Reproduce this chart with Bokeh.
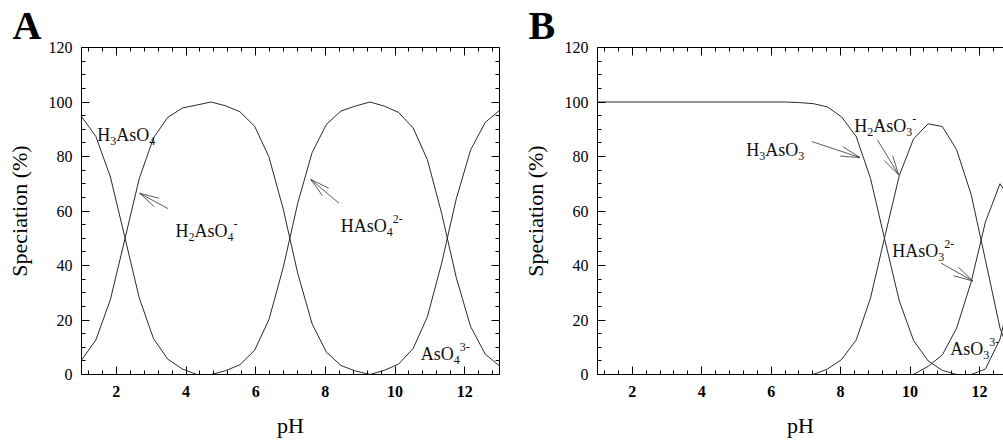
import math
from bokeh.plotting import figure
from bokeh.models import Range1d, LinearAxis, FixedTicker, Label, Title
from bokeh.layouts import row
from bokeh.embed import file_html
from bokeh.resources import INLINE

FONT = "Liberation Serif"

# ---------------- data ----------------
ph = [1.00, 1.41, 1.83, 2.24, 2.66, 3.07, 3.48, 3.90, 4.31, 4.72,
      5.14, 5.55, 5.97, 6.38, 6.79, 7.21, 7.62, 8.03, 8.45, 8.86,
      9.28, 9.69, 10.10, 10.52, 10.93, 11.34, 11.76, 12.17, 12.59, 13.00]

# Panel A: arsenate
h3aso4 = [94.7, 87.4, 72.5, 50.6, 28.0, 13.1, 5.6, 2.0, 0, 0,
          0, 0, 0, 0, 0, 0, 0, 0, 0, 0,
          0, 0, 0, 0, 0, 0, 0, 0, 0, 0]
h2aso4 = [5.3, 12.6, 27.5, 49.4, 72.0, 86.9, 94.4, 97.8, 98.9, 100.0,
          98.6, 96.4, 91.1, 79.9, 60.8, 37.0, 18.6, 8.2, 3.3, 1.3,
          0, 0, 0, 0, 0, 0, 0, 0, 0, 0]
haso4 = [0, 0, 0, 0, 0, 0, 0, 0, 0, 0,
         1.4, 3.6, 8.9, 20.1, 39.2, 63.0, 81.4, 91.8, 96.7, 98.5,
         100.0, 98.5, 96.2, 90.5, 78.8, 59.1, 35.5, 17.6, 7.5, 3.1]
aso4 = [0, 0, 0, 0, 0, 0, 0, 0, 0, 0,
        0, 0, 0, 0, 0, 0, 0, 0, 0, 0,
        0, 1.5, 3.8, 9.5, 21.2, 40.9, 64.5, 82.4, 92.5, 96.9]

# Panel B: arsenite
h3aso3 = [100, 100, 100, 100, 100, 100, 100, 100, 100, 100,
          100, 100, 100, 100, 99.8, 99.4, 98.2, 94.5, 87.3, 72.0,
          49.0, 27.0, 12.5, 5.0, 1.5, 0, 0, 0, 0, 0]
h2aso3 = [0, 0, 0, 0, 0, 0, 0, 0, 0, 0,
          0, 0, 0, 0, 0, 0, 2.0, 5.5, 12.7, 28.0,
          51.0, 73.0, 86.5, 92.0, 91.0, 82.5, 66.0, 42.0, 17.0, 3.0]
haso3 = [0, 0, 0, 0, 0, 0, 0, 0, 0, 0,
         0, 0, 0, 0, 0, 0, 0, 0, 0, 0,
         0, 0, 0, 3.0, 7.2, 17.0, 34.0, 56.0, 70.0, 62.0]
aso3 = [0, 0, 0, 0, 0, 0, 0, 0, 0, 0,
        0, 0, 0, 0, 0, 0, 0, 0, 0, 0,
        0, 0, 0, 0, 0, 0, 0, 2.0, 13.0, 35.0]

x_major = [2, 4, 6, 8, 10, 12]
y_major = [0, 20, 40, 60, 80, 100, 120]

# ---------------- helpers ----------------
WIDTHS = {"H": .722, "A": .722, "s": .389, "O": .722, "2": .5, "3": .5,
          "4": .5, "-": .333}


def text_w(t, size):
    return sum(WIDTHS.get(c, .5) for c in t) * size


def add_formula(p, x, y, parts, size=18):
    off = 0.0
    sub = 12
    for t, kind in parts:
        if kind == "n":
            fs, dy = size, 0
        elif kind == "b":
            fs, dy = sub, -6
        else:
            fs, dy = sub, 7
        p.add_layout(Label(x=x, y=y, x_offset=off, y_offset=dy, text=t,
                           text_font=FONT, text_font_size=f"{fs}px",
                           text_baseline="alphabetic", text_align="left",
                           text_color="#111111"))
        off += text_w(t, fs)


def add_arrow(p, tail, tip, sx, sy, blen=20, ang=14):
    dx = (tail[0] - tip[0]) * sx
    dy = (tail[1] - tip[1]) * sy
    a = math.atan2(dy, dx)
    xs0, ys0, xs1, ys1 = [tail[0]], [tail[1]], [tip[0]], [tip[1]]
    for s in (-1, 1):
        b = a + s * math.radians(ang)
        xs0.append(tip[0])
        ys0.append(tip[1])
        xs1.append(tip[0] + blen * math.cos(b) / sx)
        ys1.append(tip[1] + blen * math.sin(b) / sy)
    p.segment(xs0, ys0, xs1, ys1, line_color="#333333", line_width=0.8)


def style_axis(ax):
    ax.major_tick_in = 8
    ax.major_tick_out = 0
    ax.minor_tick_in = 4
    ax.minor_tick_out = 0
    ax.axis_line_color = "black"
    ax.axis_line_width = 1
    ax.major_tick_line_color = "black"
    ax.minor_tick_line_color = "black"


def make_panel(letter, series, x_end, fl, fw, fh, fb, fr, right_axis):
    p = figure(frame_width=fw, frame_height=fh,
               x_range=Range1d(1, x_end), y_range=Range1d(0, 120),
               output_backend="svg", toolbar_location=None,
               x_axis_location=None, y_axis_location=None,
               min_border_left=fl, min_border_top=40,
               min_border_bottom=fb, min_border_right=fr,
               outline_line_color=None, background_fill_color="white",
               border_fill_color="white")
    p.xgrid.visible = False
    p.ygrid.visible = False

    xminor = [round(1.2 + 0.4 * i, 1) for i in range(30)]
    xminor = [v for v in xminor if v <= 13 and abs(v / 2 - round(v / 2)) > 1e-6]
    yminor = [v for v in range(5, 120, 5) if v % 20]
    xt = FixedTicker(ticks=x_major, minor_ticks=xminor)
    yt = FixedTicker(ticks=y_major, minor_ticks=yminor)

    bottom = LinearAxis(ticker=xt, axis_label="pH")
    style_axis(bottom)
    bottom.major_label_text_font = FONT
    bottom.major_label_text_font_style = "bold"
    bottom.major_label_text_font_size = "16px"
    bottom.major_label_text_color = "black"
    bottom.major_label_standoff = 11
    bottom.axis_label_text_font = FONT
    bottom.axis_label_text_font_style = "normal"
    bottom.axis_label_text_font_size = "22px"
    bottom.axis_label_text_color = "black"
    bottom.axis_label_standoff = 13
    p.add_layout(bottom, "below")

    left = LinearAxis(ticker=yt, axis_label="Speciation (%)")
    style_axis(left)
    left.major_label_text_font = FONT
    left.major_label_text_font_size = "16px"
    left.major_label_text_color = "black"
    left.major_label_standoff = 9
    left.axis_label_text_font = FONT
    left.axis_label_text_font_style = "normal"
    left.axis_label_text_font_size = "22px"
    left.axis_label_text_color = "black"
    left.axis_label_standoff = 14
    p.add_layout(left, "left")

    top = LinearAxis(ticker=xt)
    style_axis(top)
    top.major_label_text_color = None
    top.major_label_text_font_size = "1px"
    top.major_label_standoff = 0
    p.add_layout(top, "above")

    if right_axis:
        right = LinearAxis(ticker=yt)
        style_axis(right)
        right.major_label_text_color = None
        right.major_label_text_font_size = "1px"
        right.major_label_standoff = 0
        p.add_layout(right, "right")

    for ys in series:
        p.line(ph, ys, line_color="#2a2a2a", line_width=1)

    t = Title(text=letter, text_font=FONT, text_font_style="bold",
              text_font_size="40px", align="left", offset=-69,
              standoff=0, text_color="black")
    p.add_layout(t, "above")

    sx = fw / (x_end - 1)
    sy = fh / 120.0
    return p, sx, sy


# ---------------- panel A ----------------
pa, sxa, sya = make_panel("A", [h3aso4, h2aso4, haso4, aso4], 13.0,
                          81, 418, 327, 67, 1, True)
add_formula(pa, 1.45, 88.0, [("H", "n"), ("3", "b"), ("AsO", "n"), ("4", "b")])
add_formula(pa, 3.70, 52.5, [("H", "n"), ("2", "b"), ("AsO", "n"), ("4", "b"), ("-", "p")])
add_formula(pa, 8.44, 54.4, [("HAsO", "n"), ("4", "b"), ("2-", "p")])
add_formula(pa, 10.74, 7.6, [("AsO", "n"), ("4", "b"), ("3-", "p")])
add_arrow(pa, (3.48, 60.9), (2.67, 66.5), sxa, sya)
add_arrow(pa, (8.39, 62.9), (7.58, 71.6), sxa, sya)

# ---------------- panel B ----------------
pb, sxb, syb = make_panel("B", [h3aso3, h2aso3, haso3, aso3], 12.69,
                          97, 406, 327, 67, 0, False)
add_formula(pb, 5.28, 82.4, [("H", "n"), ("3", "b"), ("AsO", "n"), ("3", "b")])
add_formula(pb, 8.39, 91.3, [("H", "n"), ("2", "b"), ("AsO", "n"), ("3", "b"), ("-", "p")])
add_formula(pb, 9.49, 45.5, [("HAsO", "n"), ("3", "b"), ("2-", "p")])
add_formula(pb, 11.16, 9.3, [("AsO", "n"), ("3", "b"), ("3-", "p")])
add_arrow(pb, (7.17, 85.5), (8.56, 79.6), sxb, syb)
add_arrow(pb, (9.06, 86.1), (9.67, 73.3), sxb, syb)
add_arrow(pb, (10.89, 40.9), (11.81, 34.3), sxb, syb)

layout = row(pa, pb, spacing=0)
open("out.html", "w").write(file_html(layout, INLINE))
